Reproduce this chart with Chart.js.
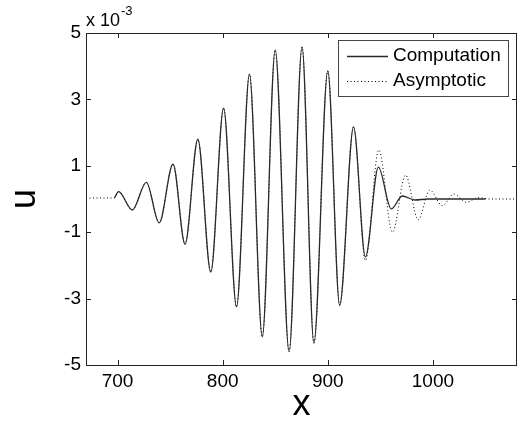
<!DOCTYPE html>
<html>
<head>
    <title>Wave packet</title>
    <script src="https://cdn.jsdelivr.net/npm/chart.js"></script>
    <style>
        body { margin: 0; background: #fff; }
    </style>
</head>
<body>
    <canvas id="waveChart" width="518" height="425"></canvas>

    <script>
        // values (u in units of 1e-3)
        const xTicks = [700, 800, 900, 1000];
        const yTicks = [-5, -3, -1, 1, 3, 5];
        const xTickLabels = ['700', '800', '900', '1000'];
        const yTickLabels = ['-5', '-3', '-1', '1', '3', '5'];

        const compX = [697, 701, 714, 727.4, 739.6, 752.8, 764.2, 776.4, 788.7, 800.9, 813.2, 825.5, 837.7,
                       850, 863.2, 875.5, 886.8, 900, 911.3, 924.5, 935.8, 948.1, 960.4, 970.8, 983, 995, 1050];
        const compY = [0.03, 0.22, -0.33, 0.5, -0.72, 1.05, -1.36, 1.8, -2.2, 2.74, -3.25, 3.76, -4.15,
                       4.49, -4.6, 4.58, -4.34, 3.86, -3.2, 2.17, -1.75, 0.96, -0.3, 0.09, -0.03, 0, 0];

        const asymX = [670, 697, 701, 714, 727.4, 739.6, 752.8, 764.2, 776.4, 788.7, 800.9, 813.2, 825.5, 837.7,
                       850, 863.2, 875.5, 886.8, 900, 911.3, 924.5, 935.8, 948.5, 961.5, 974, 986, 997, 1009,
                       1020, 1032, 1043, 1055, 1080];
        const asymY = [0.03, 0.03, 0.22, -0.33, 0.5, -0.72, 1.05, -1.36, 1.8, -2.2, 2.74, -3.25, 3.76, -4.15,
                       4.49, -4.6, 4.58, -4.34, 3.86, -3.2, 2.17, -1.85, 1.48, -1.0, 0.72, -0.63, 0.27, -0.2,
                       0.15, -0.1, 0.04, 0, 0];

        const FONT = "'Liberation Sans', Arial, sans-serif";

        function toPoints(xs, ys) {
            return xs.map((x, i) => ({ x: x, y: ys[i] }));
        }

        // box round the plot with inward ticks, matlab style
        const framePlugin = {
            id: 'frame',
            afterDatasetsDraw(chart) {
                const { ctx, chartArea: a, scales } = chart;
                ctx.save();
                ctx.strokeStyle = '#222';
                ctx.lineWidth = 1;
                ctx.strokeRect(a.left + 0.5, a.top + 0.5, a.right - a.left - 1, a.bottom - a.top);
                ctx.beginPath();
                xTicks.forEach(v => {
                    const px = Math.round(scales.x.getPixelForValue(v)) + 0.5;
                    ctx.moveTo(px, a.bottom); ctx.lineTo(px, a.bottom - 5);
                    ctx.moveTo(px, a.top); ctx.lineTo(px, a.top + 5);
                });
                yTicks.forEach(v => {
                    const py = Math.round(scales.y.getPixelForValue(v)) + 0.5;
                    ctx.moveTo(a.left, py); ctx.lineTo(a.left + 5, py);
                    ctx.moveTo(a.right, py); ctx.lineTo(a.right - 5, py);
                });
                ctx.stroke();

                // exponent label above the y axis
                ctx.fillStyle = '#000';
                ctx.textBaseline = 'alphabetic';
                ctx.textAlign = 'left';
                ctx.font = '18px ' + FONT;
                ctx.fillText('x 10', a.left, 26);
                const w = ctx.measureText('x 10').width;
                ctx.font = '13px ' + FONT;
                ctx.fillText('-3', a.left + w + 1, 15);
                ctx.restore();
            },
            afterDraw(chart) {
                // legend inside the axes, top right
                const { ctx } = chart;
                const bx = 338, by = 40, bw = 170, bh = 56;
                ctx.save();
                ctx.fillStyle = '#fff';
                ctx.fillRect(bx, by, bw, bh);
                ctx.strokeStyle = '#444';
                ctx.lineWidth = 1;
                ctx.strokeRect(bx + 0.5, by + 0.5, bw, bh);
                chart.data.datasets.forEach((ds, i) => {
                    const y = by + 16 + i * 25;
                    ctx.beginPath();
                    ctx.strokeStyle = ds.borderColor;
                    ctx.lineWidth = ds.borderWidth;
                    ctx.setLineDash(ds.borderDash || []);
                    ctx.moveTo(bx + 9, y + 0.5);
                    ctx.lineTo(bx + 50, y + 0.5);
                    ctx.stroke();
                    ctx.setLineDash([]);
                    ctx.fillStyle = '#000';
                    ctx.font = '19px ' + FONT;
                    ctx.textBaseline = 'middle';
                    ctx.fillText(ds.label, bx + 55, y);
                });
                ctx.restore();
            }
        };

        const ctx = document.getElementById('waveChart').getContext('2d');
        new Chart(ctx, {
            type: 'line',
            data: {
                datasets: [{
                    label: 'Computation',
                    data: toPoints(compX, compY),
                    borderColor: '#2a2a2a',
                    borderWidth: 1.3,
                    pointRadius: 0,
                    cubicInterpolationMode: 'monotone',
                    fill: false
                }, {
                    label: 'Asymptotic',
                    data: toPoints(asymX, asymY),
                    borderColor: '#000',
                    borderWidth: 1,
                    borderDash: [1, 2.5],
                    pointRadius: 0,
                    cubicInterpolationMode: 'monotone',
                    fill: false
                }]
            },
            options: {
                responsive: false,
                animation: false,
                layout: { padding: { left: 0, right: 1, top: 33, bottom: 0 } },
                plugins: { legend: { display: false }, tooltip: { enabled: false } },
                scales: {
                    x: {
                        type: 'linear',
                        min: 670,
                        max: 1080,
                        afterBuildTicks: s => { s.ticks = xTicks.map(v => ({ value: v })); },
                        afterFit: s => { s.height = 60; },
                        grid: { display: false, drawTicks: false },
                        border: { display: false },
                        ticks: {
                            padding: 5,
                            color: '#000',
                            font: { family: FONT, size: 19 },
                            maxRotation: 0,
                            callback: v => xTickLabels[xTicks.indexOf(v)]
                        },
                        title: {
                            display: true,
                            text: 'x',
                            color: '#000',
                            font: { family: FONT, size: 36, lineHeight: 1 },
                            padding: { top: 0, bottom: 2 }
                        }
                    },
                    y: {
                        min: -5,
                        max: 5,
                        afterBuildTicks: s => { s.ticks = yTicks.map(v => ({ value: v })); },
                        afterFit: s => { s.width = 86; },
                        grid: { display: false, drawTicks: false },
                        border: { display: false },
                        ticks: {
                            padding: 5,
                            color: '#000',
                            font: { family: FONT, size: 19 },
                            callback: v => yTickLabels[yTicks.indexOf(v)]
                        },
                        title: {
                            display: true,
                            text: 'u',
                            color: '#000',
                            font: { family: FONT, size: 36, lineHeight: 1 },
                            padding: { top: 7, bottom: 0 }
                        }
                    }
                }
            },
            plugins: [framePlugin]
        });
    </script>
</body>
</html>
